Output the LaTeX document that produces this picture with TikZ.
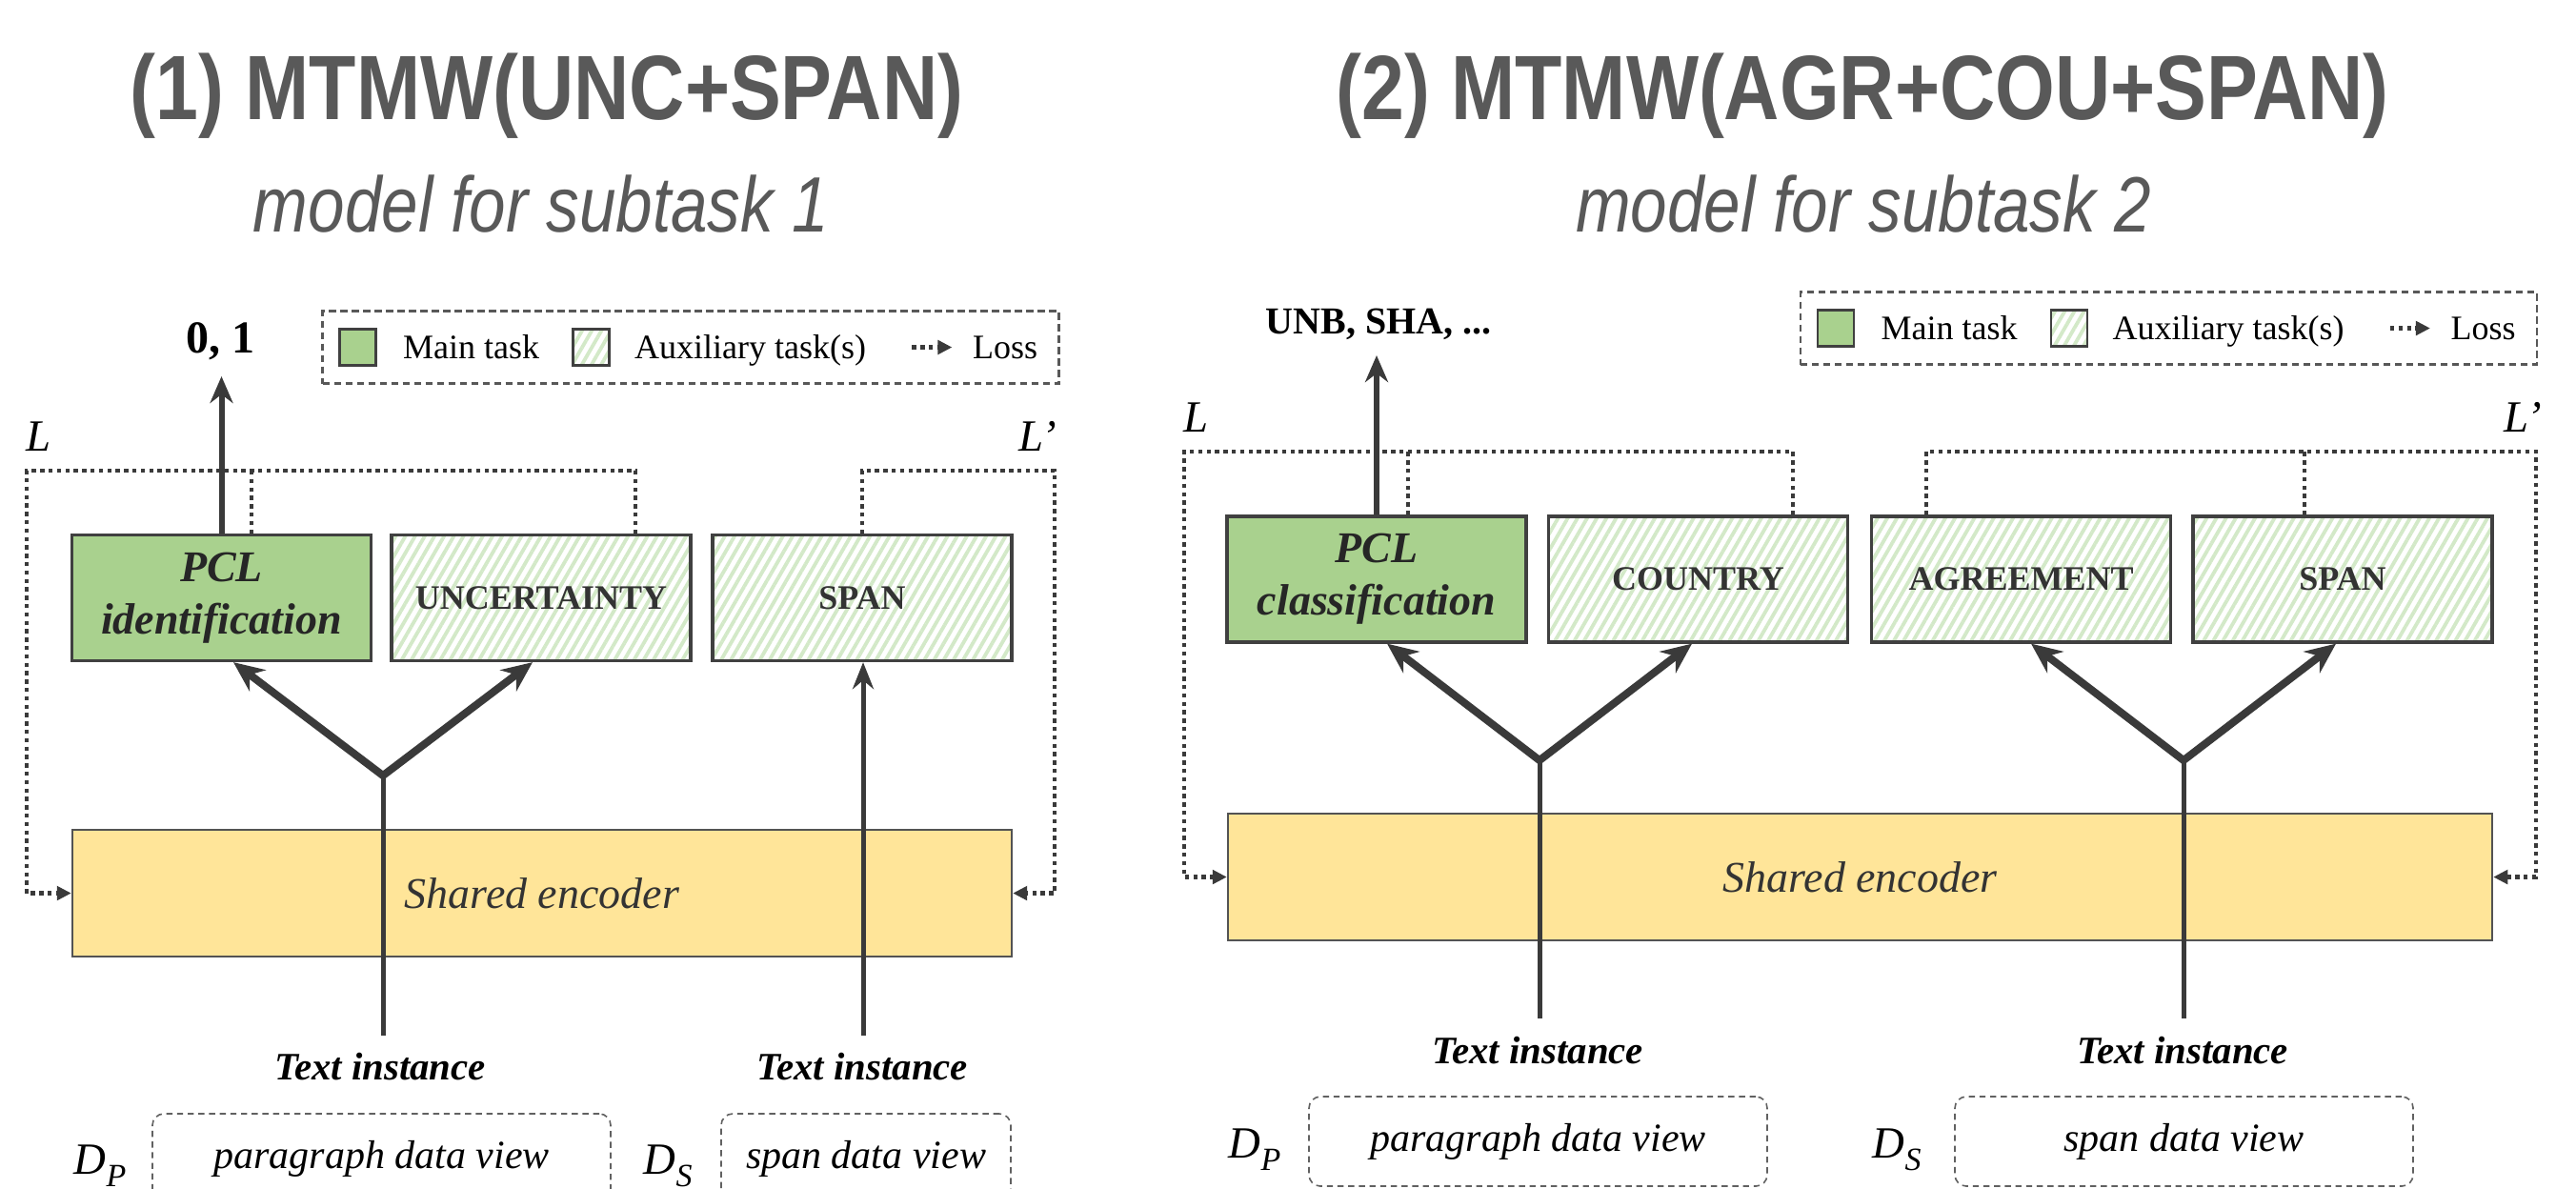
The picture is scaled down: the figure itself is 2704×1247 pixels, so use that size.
\documentclass[tikz,border=0pt]{standalone}
\usepackage{fontspec}
\setmainfont{Liberation Serif}
\newfontfamily\headfont[FakeStretch=0.84]{Liberation Sans}
\usetikzlibrary{arrows.meta,patterns.meta,calc}

\definecolor{ink}{HTML}{3A3A3A}
\definecolor{headgray}{HTML}{595959}
\definecolor{maingreen}{HTML}{A9D18E}
\definecolor{hatchgreen}{HTML}{D3E9C8}
\definecolor{encyellow}{HTML}{FFE599}
\definecolor{boxline}{HTML}{404040}

\tikzset{
  headtitle/.style={font=\headfont\bfseries\fontsize{24}{28}\selectfont, text=headgray, anchor=base, inner sep=0},
  headsub/.style={font=\headfont\itshape\fontsize{20.6}{24}\selectfont, text=headgray, anchor=base, inner sep=0},
  mainbox/.style={draw=boxline, line width=0.8pt, fill=maingreen, minimum width=78.5pt, minimum height=33pt,
    inner sep=0, align=center, font=\fontsize{11.5}{13.75}\selectfont\bfseries\itshape, text=black!85},
  auxbox/.style={draw=boxline, line width=0.8pt, preaction={fill=white},
    pattern={Lines[angle=60,distance=2.2pt,line width=0.95pt]}, pattern color=hatchgreen,
    minimum width=78.5pt, minimum height=33pt, inner sep=0, font=\fontsize{9}{11}\selectfont\bfseries, text=black!80},
  encbox/.style={draw=boxline!90, line width=0.6pt, fill=encyellow, minimum height=33.25pt, inner sep=0,
    font=\fontsize{11.5}{14}\selectfont\itshape, text=black!80},
  legendbox/.style={draw=ink!85, line width=0.55pt, dash pattern=on 1.8pt off 1.2pt,
    minimum width=193.25pt, minimum height=19pt, inner sep=0},
  swatchmain/.style={draw=boxline, line width=0.6pt, fill=maingreen, minimum size=9.5pt, inner sep=0},
  swatchaux/.style={draw=boxline, line width=0.6pt, preaction={fill=white},
    pattern={Lines[angle=60,distance=2.2pt,line width=0.95pt]}, pattern color=hatchgreen, minimum size=9.5pt, inner sep=0},
  legendtext/.style={font=\fontsize{9}{11}\selectfont, anchor=base west, inner sep=0},
  viewbox/.style={draw=ink!80, line width=0.4pt, dash pattern=on 1.6pt off 1.2pt, rounded corners=3pt,
    minimum height=23.5pt, inner sep=0, font=\fontsize{10.5}{12}\selectfont\itshape},
  instlabel/.style={font=\fontsize{10.2}{12}\selectfont\bfseries\itshape, anchor=base, inner sep=0},
  dlabel/.style={font=\fontsize{11.7}{13}\selectfont\itshape, anchor=base west, inner sep=0},
  losslabel/.style={font=\fontsize{11.7}{13}\selectfont\itshape, anchor=base, inner sep=0},
  outlabel/.style={font=\bfseries, anchor=base, inner sep=0},
  loss/.style={draw=ink, line width=1.15pt, dash pattern=on 1.1pt off 1.1pt},
  losstip/.style={arrows={-Triangle[length=3.75pt,width=3.6pt]}},
  feed/.style={draw=ink, line width=1.25pt},
  feedarrow/.style={draw=ink, line width=1.25pt, arrows={-Stealth[length=7pt,width=5.5pt]}},
  uparrow/.style={draw=ink, line width=1.5pt, arrows={-Stealth[length=7pt,width=6pt]}},
  fork/.style={draw=ink, line width=2pt,
    arrows={Stealth[length=8pt,width=7pt]-Stealth[length=8pt,width=7pt]}}
}

% legend contents, placed relative to the legend frame lg#1
\newcommand\drawlegendrow[1]{%
  \node[swatchmain] (sm#1) at ($(lg#1.west)+(38,0)$) {};
  \node[legendtext] (tm#1) at ($(lg#1.west)+(85,12)$) {Main task};
  \node[swatchaux] (sa#1) at ($(lg#1.west)+(283,0)$) {};
  \node[legendtext] (ta#1) at ($(lg#1.west)+(328,12)$) {Auxiliary task(s)};
  \coordinate (la#1) at ($(lg#1.west)+(620,0)$);
  \coordinate (lb#1) at ($(lg#1.west)+(662,0)$);
  \draw[loss,losstip] (la#1) -- (lb#1);
  \node[legendtext] (tl#1) at ($(lg#1.west)+(683,12)$) {Loss};
}

\begin{document}
\begin{tikzpicture}[x=0.25pt,y=-0.25pt]
\useasboundingbox (0,0) rectangle (2704,1247);
\fill[white] (0,0) rectangle (2704,1247);
\clip (0,0) rectangle (2704,1247);

% ---------- headings ----------
\node[headtitle] (h1) at (574,125) {(1) MTMW(UNC+SPAN)};
\node[headsub] (s1) at (568,243) {model for subtask 1};
\node[headtitle] (h2) at (1955,125) {(2) MTMW(AGR+COU+SPAN)};
\node[headsub] (s2) at (1956,243) {model for subtask 2};

% ---------- legends ----------
\node[legendbox] (lgA) at (725,364.5) {};
\drawlegendrow{A}
\node[legendbox] (lgB) at (2276.5,344.5) {};
\drawlegendrow{B}

% ================= model (1) =================
\node[mainbox] (pcl1) at (232.5,627.5) {PCL\\identification};
\node[auxbox] (unc1) at (568,627.5) {UNCERTAINTY};
\node[auxbox] (span1) at (905,627.5) {SPAN};
\node[encbox, minimum width=246.5pt] (enc1) at (569,937.5) {Shared encoder};

% losses
\coordinate (cL1) at (28,494);
\coordinate (cR1) at (1107,494);
\coordinate (pl1) at ([xshift=7.875pt]pcl1.north);
\draw[loss,losstip] ([xshift=24.75pt]unc1.north) |- (cL1) |- (enc1.west);
\draw[loss] (pl1) -- (pl1 |- cL1);
\draw[loss,losstip] (span1.north) |- (cR1) |- (enc1.east);
\node[losslabel] (L1) at (41,473) {L};
\node[losslabel] (L1b) at (1089,473) {L’};

% output
\coordinate (tip1) at (232,395);
\draw[uparrow] (pcl1.north) -- (pcl1.north |- tip1);
\node[outlabel, font=\fontsize{12}{14}\selectfont\bfseries] (out1) at (231,370) {0, 1};

% inputs and task heads
\coordinate (j1) at (402,814);
\coordinate (b1) at (402,1087);
\draw[feed] (b1) -- (j1);
\draw[fork] ($(pcl1.south)+(12.5,0)$) -- (j1) -- ($(unc1.south)+(-9,0)$);
\coordinate (b2) at (906,1087);
\draw[feedarrow] (b2) -- (b2 |- span1.south);

\node[instlabel] (ti1) at (399,1133) {Text instance};
\node[instlabel] (ti2) at (905,1133) {Text instance};
\node[viewbox, minimum width=120.25pt] (dv1) at (400.5,1216) {paragraph data view};
\node[viewbox, minimum width=76pt] (dv2) at (909,1216) {span data view};
\node[dlabel] (dp1) at (77,1232) {D\raisebox{-0.28em}{\fontsize{8.5}{9}\selectfont P}};
\node[dlabel] (ds1) at (675,1232) {D\raisebox{-0.28em}{\fontsize{8.5}{9}\selectfont S}};

% ================= model (2) =================
\node[mainbox] (pcl2) at (1445,608) {PCL\\classification};
\node[auxbox] (cou2) at (1782.5,608) {COUNTRY};
\node[auxbox] (agr2) at (2121.5,608) {AGREEMENT};
\node[auxbox] (span2) at (2459,608) {SPAN};
\node[encbox, minimum width=331.75pt] (enc2) at (1952.5,920.5) {Shared encoder};

% losses
\coordinate (cL2) at (1243,474);
\coordinate (cR2) at (2662,474);
\coordinate (pl2) at ([xshift=8.25pt]pcl2.north);
\coordinate (sp2) at ([xshift=-10pt]span2.north);
\draw[loss,losstip] ([xshift=24.9pt]cou2.north) |- (cL2) |- (enc2.west);
\draw[loss] (pl2) -- (pl2 |- cL2);
\draw[loss,losstip] ([xshift=-24.9pt]agr2.north) |- (cR2) |- (enc2.east);
\draw[loss] (sp2) -- (sp2 |- cR2);
\node[losslabel] (L2) at (1255,453) {L};
\node[losslabel] (L2b) at (2648,453) {L’};

% output
\coordinate (tip2) at (1445,373);
\draw[uparrow] (pcl2.north) -- (pcl2.north |- tip2);
\node[outlabel, font=\fontsize{10}{12}\selectfont\bfseries] (out2) at (1447,350) {UNB, SHA, ...};

% inputs and task heads
\coordinate (j3) at (1616,798);
\coordinate (b3) at (1616,1069);
\draw[feed] (b3) -- (j3);
\draw[fork] ($(pcl2.south)+(11,0)$) -- (j3) -- ($(cou2.south)+(-6.5,0)$);
\coordinate (j4) at (2292,798);
\coordinate (b4) at (2292,1069);
\draw[feed] (b4) -- (j4);
\draw[fork] ($(agr2.south)+(10.5,0)$) -- (j4) -- ($(span2.south)+(-7,0)$);

\node[instlabel] (ti3) at (1614,1116) {Text instance};
\node[instlabel] (ti4) at (2291,1116) {Text instance};
\node[viewbox, minimum width=120.25pt] (dv3) at (1614.5,1198) {paragraph data view};
\node[viewbox, minimum width=120.25pt] (dv4) at (2292.5,1198) {span data view};
\node[dlabel] (dp2) at (1289,1215) {D\raisebox{-0.28em}{\fontsize{8.5}{9}\selectfont P}};
\node[dlabel] (ds2) at (1965,1215) {D\raisebox{-0.28em}{\fontsize{8.5}{9}\selectfont S}};
\end{tikzpicture}
\end{document}
